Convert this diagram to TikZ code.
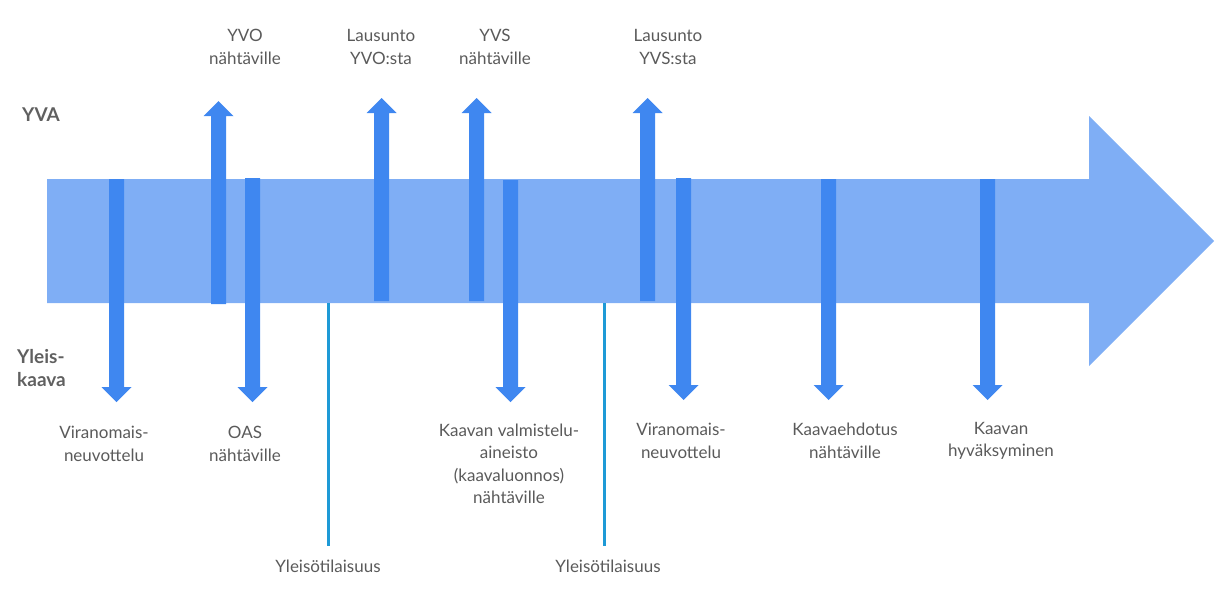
\documentclass[tikz,border=0pt]{standalone}
\usepackage{fontspec}
\setmainfont{Lato}
\definecolor{bodyblue}{HTML}{7FAEF5}
\definecolor{arrblue}{HTML}{3F87F0}
\definecolor{lineblue}{HTML}{1E9AD6}
\definecolor{txtgray}{HTML}{5A5A5A}
\definecolor{hdgray}{HTML}{606060}
\newcommand{\downarr}[4]{% name, x, ytop, ytip
  \fill[arrblue] (#2-7.5,#3) -- (#2+7.5,#3) -- (#2+7.5,#4-15) -- (#2+15,#4-15) -- (#2,#4) -- (#2-15,#4-15) -- (#2-7.5,#4-15) -- cycle;
  \coordinate (#1) at (#2,#4);}
\newcommand{\uparr}[4]{% name, x, ybottom, ytip
  \fill[arrblue] (#2-7.5,#3) -- (#2+7.5,#3) -- (#2+7.5,#4+15) -- (#2+15,#4+15) -- (#2,#4) -- (#2-15,#4+15) -- (#2-7.5,#4+15) -- cycle;
  \coordinate (#1) at (#2,#4);}
\begin{document}
\begin{tikzpicture}[x=1pt,y=-1pt,
  lbl/.style={text=txtgray,font=\fontsize{17}{22.5}\selectfont,align=center,inner sep=0pt},
  hd/.style={text=hdgray,font=\fontsize{19}{22.5}\selectfont\bfseries,align=left,inner sep=0pt},
  evline/.style={draw=lineblue,line width=3pt}]
\useasboundingbox (0,0) rectangle (1232,603);
% main arrow
\fill[bodyblue] (47,179) -- (1089,179) -- (1089,116) -- (1214,241) -- (1089,366) -- (1089,303) -- (47,303) -- cycle;
% event lines
\coordinate (l1top) at (328,303);
\coordinate (l1bot) at (328,546);
\coordinate (l2top) at (604,303);
\coordinate (l2bot) at (604,546);
\draw[evline] (l1top) -- (l1bot);
\draw[evline] (l2top) -- (l2bot);
% arrows
\downarr{a1}{116.5}{179}{402}
\uparr{a2}{218.5}{304}{101}
\downarr{a3}{252.5}{178}{402}
\uparr{a4}{381.5}{301}{98}
\uparr{a5}{476.5}{301}{98}
\downarr{a6}{510.5}{180}{402}
\uparr{a7}{647.5}{301}{98}
\downarr{a8}{683.5}{178}{400}
\downarr{a9}{828.5}{179}{400}
\downarr{a10}{987.5}{179}{400}
% headings
\node[hd,anchor=west] (yva) at (22,115) {YVA};
\node[hd,anchor=west] (yk) at (17,368) {Yleis-\\kaava};
% labels top
\node[lbl] (t2) at (245,47) {YVO\\nähtäville};
\node[lbl] (t4) at (381,47) {Lausunto\\YVO:sta};
\node[lbl] (t5) at (495,47) {YVS\\nähtäville};
\node[lbl] (t7) at (668,47) {Lausunto\\YVS:sta};
% labels bottom
\node[lbl] (b1) at (104,444) {Viranomais-\\neuvottelu};
\node[lbl] (b3) at (245,444) {OAS\\nähtäville};
\node[lbl] (b6) at (509,464) {Kaavan valmistelu-\\aineisto\\(kaavaluonnos)\\nähtäville};
\node[lbl] (b8) at (681,441) {Viranomais-\\neuvottelu};
\node[lbl] (b9) at (845,441) {Kaavaehdotus\\nähtäville};
\node[lbl] (b10) at (1001,441) {Kaavan\\hyväksyminen};
\node[lbl] (y1) at (328,566) {Yleisötilaisuus};
\node[lbl] (y2) at (608,566) {Yleisötilaisuus};
\end{tikzpicture}
\end{document}
